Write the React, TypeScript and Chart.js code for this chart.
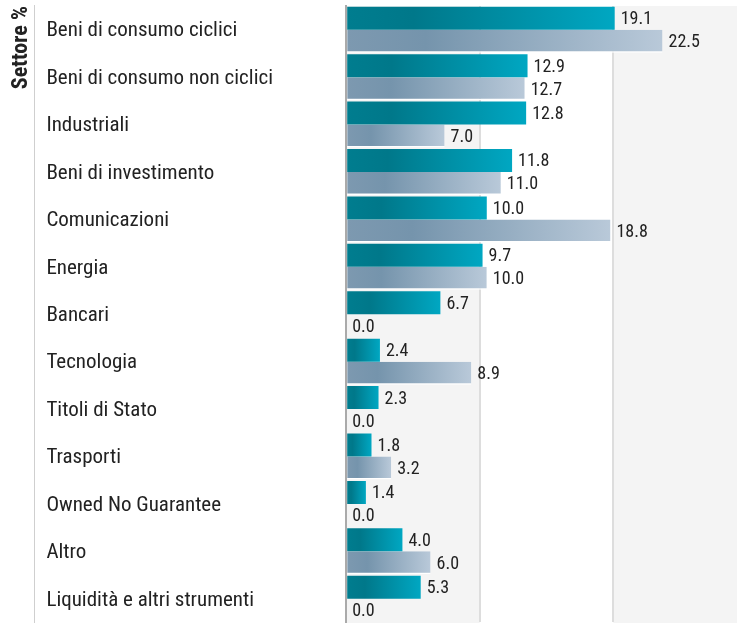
import { useEffect, useRef } from 'react';
import { Chart, registerables } from 'chart.js';

Chart.register(...registerables);

const categories = [
  'Beni di consumo ciclici',
  'Beni di consumo non ciclici',
  'Industriali',
  'Beni di investimento',
  'Comunicazioni',
  'Energia',
  'Bancari',
  'Tecnologia',
  'Titoli di Stato',
  'Trasporti',
  'Owned No Guarantee',
  'Altro',
  'Liquidità e altri strumenti',
];
const fundValues = [19.1, 12.9, 12.8, 11.8, 10.0, 9.7, 6.7, 2.4, 2.3, 1.8, 1.4, 4.0, 5.3];
const benchmarkValues = [22.5, 12.7, 7.0, 11.0, 18.8, 10.0, 0.0, 8.9, 0.0, 3.2, 0.0, 6.0, 0.0];
const gridTicks = [0, 9.5, 19];
const axisMax = 27.8;
const axisTitle = 'Settore %';

const FAMILY = 'Roboto';
const TEXT = '#222222';
const tealStops: [number, string][] = [
  [0, '#007d8f'],
  [0.25, '#00788a'],
  [1, '#00a7c2'],
];
const greyStops: [number, string][] = [
  [0, '#7d99b0'],
  [0.25, '#7594ac'],
  [1, '#b9c9d9'],
];

function barGradient(stops: [number, string][]) {
  return (c: any) => {
    const chart = c.chart;
    const { ctx, chartArea, scales } = chart;
    if (!chartArea || !scales || !scales.x || typeof c.raw !== 'number') return stops[0][1];
    const x0 = scales.x.getPixelForValue(0);
    const x1 = scales.x.getPixelForValue(c.raw);
    if (!isFinite(x0) || !isFinite(x1) || x1 - x0 < 1) return stops[0][1];
    const g = ctx.createLinearGradient(x0, 0, x1, 0);
    stops.forEach(([o, col]) => g.addColorStop(o, col));
    return g;
  };
}

const bandsPlugin = {
  id: 'bands',
  beforeDraw(chart: any) {
    const { ctx, chartArea, scales } = chart;
    const xs = scales.x;
    if (!chartArea || !xs) return;
    const bounds = [...gridTicks, axisMax];
    ctx.save();
    for (let i = 0; i < bounds.length - 1; i++) {
      if (i % 2 !== 0) continue;
      const a = xs.getPixelForValue(bounds[i]);
      const b = xs.getPixelForValue(bounds[i + 1]);
      ctx.fillStyle = '#f4f4f4';
      ctx.fillRect(a, chartArea.top, b - a, chart.height - chartArea.top);
    }
    // separator between axis title and category labels
    const ys = scales.y;
    const sx = Math.round(ys.left - 12) + 0.5;
    ctx.strokeStyle = '#cfcfcf';
    ctx.lineWidth = 1;
    ctx.beginPath();
    ctx.moveTo(sx, chartArea.top - 1);
    ctx.lineTo(sx, chart.height);
    ctx.stroke();
    ctx.restore();
  },
};

const valueLabelsPlugin = {
  id: 'valueLabels',
  afterDatasetsDraw(chart: any) {
    const { ctx } = chart;
    ctx.save();
    ctx.font = `condensed 18px ${FAMILY}`;
    ctx.fillStyle = TEXT;
    ctx.textAlign = 'left';
    ctx.textBaseline = 'middle';
    chart.data.datasets.forEach((ds: any, di: number) => {
      const meta = chart.getDatasetMeta(di);
      meta.data.forEach((bar: any, i: number) => {
        const v = ds.data[i] as number;
        ctx.fillText(v.toFixed(1), bar.x + 6, bar.y + 1.5);
      });
    });
    ctx.restore();
  },
};

export default function App() {
  const canvasRef = useRef<HTMLCanvasElement | null>(null);

  useEffect(() => {
    if (!canvasRef.current) return;
    Chart.defaults.font.family = FAMILY;
    const chart = new Chart(canvasRef.current, {
      type: 'bar',
      data: {
        labels: categories,
        datasets: [
          {
            label: 'Fondo',
            data: fundValues,
            backgroundColor: barGradient(tealStops),
            borderWidth: 0,
            categoryPercentage: 0.97,
            barPercentage: 1,
          },
          {
            label: 'Benchmark',
            data: benchmarkValues,
            backgroundColor: barGradient(greyStops),
            borderColor: '#ffffff',
            borderWidth: { top: 0, left: 0, right: 0, bottom: 1.5 },
            borderSkipped: 'start',
            categoryPercentage: 0.97,
            barPercentage: 1,
          },
        ],
      },
      options: {
        indexAxis: 'y',
        animation: false,
        responsive: true,
        maintainAspectRatio: false,
        layout: { padding: { top: 6, right: 0, bottom: 0, left: 0 } },
        plugins: {
          legend: { display: false },
          tooltip: { enabled: false },
          title: {
            display: true,
            text: axisTitle,
            position: 'left',
            align: 'end',
            color: TEXT,
            font: { family: FAMILY, size: 22, weight: 'bold condensed' as any, lineHeight: 1.2 },
            padding: { top: 8.5, bottom: 11.5 },
          },
        },
        scales: {
          x: {
            min: 0,
            max: axisMax,
            afterBuildTicks: (scale: any) => {
              scale.ticks = gridTicks.map((v) => ({ value: v }));
            },
            ticks: { display: false },
            grid: { color: '#dddddd', lineWidth: 2, drawTicks: false },
            border: { display: false },
          },
          y: {
            afterFit: (scale: any) => {
              scale.width = 299.8;
            },
            ticks: {
              crossAlign: 'far',
              color: TEXT,
              padding: 0,
              labelOffset: 1.5,
              font: { family: FAMILY, size: 21, weight: 'condensed' as any, lineHeight: 0.05 },
            },
            grid: { display: false, drawTicks: false },
            border: { display: true, color: '#aaaaaa', width: 2 },
          },
        },
      },
      plugins: [bandsPlugin, valueLabelsPlugin],
    });
    return () => chart.destroy();
  }, []);

  return (
    <div style={{ position: 'absolute', left: 0, top: 0, width: 737, height: 623 }}>
      <canvas ref={canvasRef} />
    </div>
  );
}
